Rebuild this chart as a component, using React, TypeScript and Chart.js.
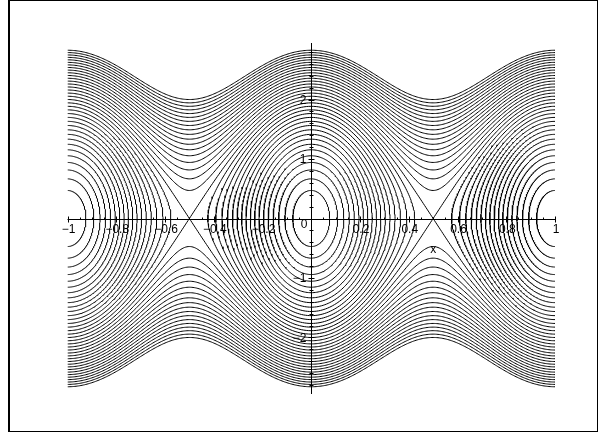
import { useEffect, useRef } from "react";
import { Chart, registerables } from "chart.js";

Chart.register(...registerables);

// Contour levels of H(x, y) = y^2/2 - cos(2*pi*x)
const contourLevels = [
  -0.889, -0.778, -0.667, -0.556, -0.444, -0.333, -0.222, -0.111, 0,
  0.111, 0.222, 0.333, 0.444, 0.556, 0.667, 0.778, 0.889, 1,
  1.111, 1.222, 1.333, 1.444, 1.556, 1.667, 1.778, 1.889, 2,
  2.111, 2.222, 2.333, 2.444, 2.556, 2.667, 2.778, 2.889, 3,
];
const separatrixLevel = 1;
const wellCenters = [-1, 0, 1];
const xRange = [-1, 1];
const yRange = [-2.95, 2.95];

const xTickValues = [-1, -0.8, -0.6, -0.4, -0.2, 0.2, 0.4, 0.6, 0.8, 1];
const xTickLabels = ["\u22121", "\u22120.8", "\u22120.6", "\u22120.4", "\u22120.2", "0.2", "0.4", "0.6", "0.8", "1"];
const originLabel = "0";
const yTickValues = [-2, -1, 1, 2];
const yTickLabels = ["\u22122", "\u22121", "1", "2"];
const xAxisTitle = "x";
const xAxisTitlePos = 0.5;

const FONT = '12px "Liberation Sans", Arial, sans-serif';

function curveY(E: number, x: number): number {
  return Math.sqrt(Math.max(0, 2 * (E + Math.cos(2 * Math.PI * x))));
}

function contourSegments(E: number): { x: number; y: number }[][] {
  const segs: { x: number; y: number }[][] = [];
  if (E >= separatrixLevel) {
    const N = 400;
    const top: { x: number; y: number }[] = [];
    const bot: { x: number; y: number }[] = [];
    for (let i = 0; i <= N; i++) {
      const x = xRange[0] + ((xRange[1] - xRange[0]) * i) / N;
      const y = curveY(E, x);
      top.push({ x, y });
      bot.push({ x, y: -y });
    }
    segs.push(top, bot);
  } else {
    const half = Math.acos(-E) / (2 * Math.PI);
    const N = 240;
    for (const c of wellCenters) {
      const start = c === 1 ? Math.PI / 2 : c === -1 ? -Math.PI / 2 : 0;
      const span = c === 0 ? 2 * Math.PI : Math.PI;
      const pts: { x: number; y: number }[] = [];
      for (let i = 0; i <= N; i++) {
        const t = start + (span * i) / N;
        let x = c + half * Math.cos(t);
        x = Math.min(xRange[1], Math.max(xRange[0], x));
        const s = Math.sin(t) >= 0 ? 1 : -1;
        pts.push({ x, y: s * curveY(E, x) });
      }
      segs.push(pts);
    }
  }
  return segs;
}

const axesPlugin = {
  id: "mapleAxes",
  afterDatasetsDraw(chart: any) {
    const { ctx } = chart;
    const xs = chart.scales.x;
    const ys = chart.scales.y;
    const px0 = Math.round(xs.getPixelForValue(0)) + 0.5;
    const py0 = Math.round(ys.getPixelForValue(0)) + 0.5;
    ctx.save();
    ctx.strokeStyle = "#000";
    ctx.lineWidth = 1;
    ctx.beginPath();
    ctx.moveTo(xs.getPixelForValue(xRange[0]), py0);
    ctx.lineTo(xs.getPixelForValue(xRange[1]), py0);
    ctx.moveTo(px0, ys.getPixelForValue(yRange[1]));
    ctx.lineTo(px0, ys.getPixelForValue(yRange[0]));
    // x ticks
    for (let k = -20; k <= 20; k++) {
      const v = k * 0.05;
      const p = Math.round(xs.getPixelForValue(v)) + 0.5;
      const major = k % 4 === 0;
      ctx.moveTo(p, py0 - (major ? 3 : 2));
      ctx.lineTo(p, py0 + (major ? 3 : 0));
    }
    // y ticks
    for (let k = -14; k <= 14; k++) {
      const v = k * 0.2;
      const p = Math.round(ys.getPixelForValue(v)) + 0.5;
      const major = k % 5 === 0;
      ctx.moveTo(px0 - (major ? 3 : 2), p);
      ctx.lineTo(px0 + (major ? 3 : 2), p);
    }
    ctx.stroke();

    ctx.fillStyle = "#000";
    ctx.font = FONT;
    ctx.textAlign = "center";
    ctx.textBaseline = "middle";
    xTickValues.forEach((v, i) => {
      ctx.fillText(xTickLabels[i], xs.getPixelForValue(v) + 1, py0 + 10);
    });
    ctx.textAlign = "right";
    ctx.fillText(originLabel, px0 - 4, py0 + 5);
    yTickValues.forEach((v, i) => {
      ctx.fillText(yTickLabels[i], px0 - 5, ys.getPixelForValue(v) + 1);
    });
    ctx.textAlign = "center";
    ctx.fillText(xAxisTitle, xs.getPixelForValue(xAxisTitlePos), py0 + 30);
    ctx.restore();
  },
};

export default function App() {
  const ref = useRef<HTMLCanvasElement | null>(null);
  useEffect(() => {
    if (!ref.current) return;
    const datasets: any[] = [];
    contourLevels.forEach((E) => {
      contourSegments(E).forEach((seg) => {
        datasets.push({
          data: seg,
          showLine: true,
          pointRadius: 0,
          borderColor: "#000",
          borderWidth: 1,
          tension: 0,
          fill: false,
        });
      });
    });
    const chart = new Chart(ref.current, {
      type: "scatter",
      data: { datasets },
      options: {
        animation: false,
        responsive: false,
        events: [],
        layout: { padding: { left: 67.5, right: 48, top: 43, bottom: 44 } },
        plugins: { legend: { display: false }, tooltip: { enabled: false } },
        scales: {
          x: { type: "linear", min: xRange[0], max: xRange[1], display: false },
          y: { type: "linear", min: yRange[0], max: yRange[1], display: false },
        },
      },
      plugins: [axesPlugin],
    });
    return () => chart.destroy();
  }, []);
  return (
    <div style={{ position: "absolute", left: 0, top: 0, width: 603, height: 438, background: "#fff" }}>
      <canvas ref={ref} width={603} height={438} style={{ position: "absolute", left: 0, top: 0 }} />
      <div
        style={{
          position: "absolute",
          left: 8,
          top: 0,
          width: 590,
          height: 432,
          boxSizing: "border-box",
          borderTop: "1px solid #000",
          borderBottom: "1px solid #000",
          borderRight: "1px solid #000",
          borderLeft: "2px solid #000",
          pointerEvents: "none",
        }}
      />
    </div>
  );
}
